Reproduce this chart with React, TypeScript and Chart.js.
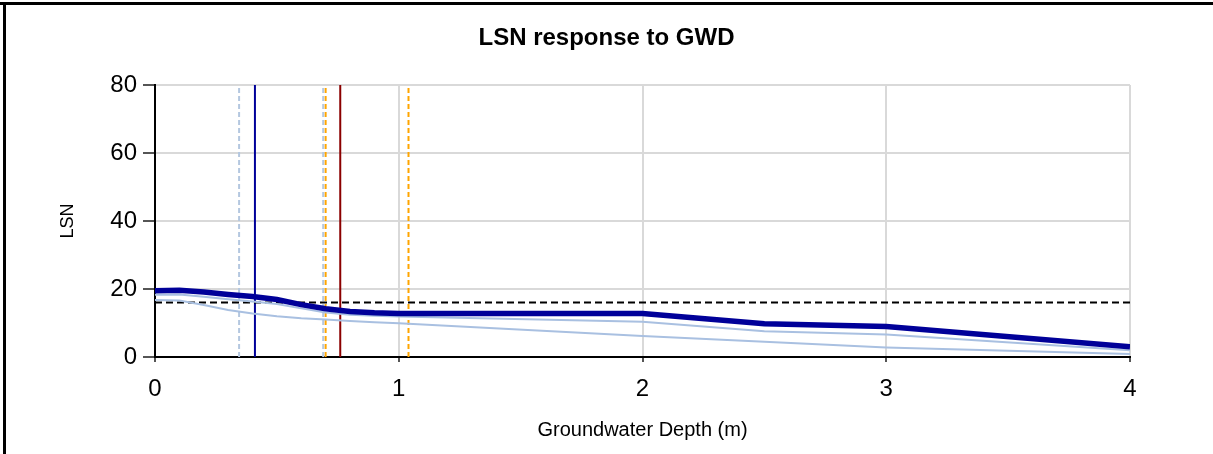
import React, { useEffect, useRef } from "react";
import { Chart, registerables } from "chart.js";

Chart.register(...registerables);

// Groundwater depth (m)
const depths = [0, 0.1, 0.2, 0.3, 0.4, 0.5, 0.6, 0.7, 0.8, 0.9, 1, 2, 2.5, 3, 4];
// LSN series
const lsnMain = [19.5, 19.6, 19.1, 18.4, 17.8, 16.9, 15.4, 14.2, 13.4, 13.0, 12.8, 12.8, 9.8, 9.0, 3.0];
const lsnUpper = [18.3, 18.4, 17.7, 17.0, 16.3, 15.6, 14.3, 13.1, 12.4, 12.1, 11.9, 10.4, 7.6, 6.6, 2.0];
const lsnLower = [16.8, 16.6, 15.3, 13.8, 12.8, 12.0, 11.4, 11.0, 10.6, 10.2, 9.9, 6.2, 4.5, 2.8, 0.9];
// Threshold LSN
const lsnThreshold = 16;
// Vertical markers (groundwater depth)
const markerDepths = [0.345, 0.41, 0.69, 0.7, 0.76, 1.04];
const markerColors = ["#b4c7e0", "#000099", "#b4c7e0", "#ffa500", "#8b0000", "#ffa500"];
const markerDashed = [true, false, true, true, false, true];
// Axis ticks
const xTicks = [0, 1, 2, 3, 4];
const yTicks = [0, 20, 40, 60, 80];

const W = 1213;
const H = 454;

export default function App() {
  const ref = useRef<HTMLCanvasElement | null>(null);

  useEffect(() => {
    document.body.style.margin = "0";
    const canvas = ref.current;
    if (!canvas) return;
    Chart.defaults.font.family = "'Liberation Sans', Arial, sans-serif";
    Chart.defaults.color = "#000";

    const pts = (ys: number[]) => depths.map((x, i) => ({ x, y: ys[i] }));

    const markerSets = markerDepths.map((d, i) => ({
      label: "marker" + i,
      data: [
        { x: d, y: yTicks[0] },
        { x: d, y: yTicks[yTicks.length - 1] },
      ],
      borderColor: markerColors[i],
      borderWidth: 2,
      borderDash: markerDashed[i] ? [5, 3] : [],
      pointRadius: 0,
      fill: false,
      order: 10 + i,
    }));

    const chart = new Chart(canvas, {
      type: "line",
      data: {
        datasets: [
          {
            label: "LSN",
            data: pts(lsnMain),
            borderColor: "#000099",
            borderWidth: 5.5,
            pointRadius: 0,
            tension: 0,
            order: 1,
          },
          {
            label: "LSN upper",
            data: pts(lsnUpper),
            borderColor: "#a9c0e1",
            borderWidth: 2,
            pointRadius: 0,
            order: 2,
          },
          {
            label: "LSN lower",
            data: pts(lsnLower),
            borderColor: "#a9c0e1",
            borderWidth: 2,
            pointRadius: 0,
            order: 3,
          },
          {
            label: "Threshold",
            data: [
              { x: xTicks[0], y: lsnThreshold },
              { x: xTicks[xTicks.length - 1], y: lsnThreshold },
            ],
            borderColor: "#000",
            borderWidth: 2,
            borderDash: [7, 4],
            pointRadius: 0,
            order: 4,
          },
          ...markerSets,
        ],
      },
      options: {
        responsive: false,
        animation: false,
        devicePixelRatio: 1,
        layout: { padding: { left: 0, right: 0, top: 0, bottom: 0 } },
        plugins: {
          legend: { display: false },
          tooltip: { enabled: false },
          title: {
            display: true,
            text: "LSN response to GWD",
            color: "#000",
            font: { size: 24, weight: "bold" },
            padding: { top: 23.6, bottom: 32.6 },
          },
        },
        scales: {
          x: {
            type: "linear",
            min: xTicks[0],
            max: xTicks[xTicks.length - 1],
            afterBuildTicks: (s: any) => {
              s.ticks = xTicks.map((v) => ({ value: v }));
            },
            afterFit: (s: any) => {
              s.height = H - 357;
            },
            ticks: { font: { size: 24 }, color: "#000", padding: 13 },
            grid: { color: "#d9d9d9", lineWidth: 2, tickLength: 5, tickColor: "#555" },
            border: { color: "#000", width: 2 },
            title: {
              display: true,
              text: "Groundwater Depth (m)",
              color: "#000",
              font: { size: 20 },
              padding: { top: 0, bottom: 12 },
            },
          },
          y: {
            min: yTicks[0],
            max: yTicks[yTicks.length - 1],
            afterBuildTicks: (s: any) => {
              s.ticks = yTicks.map((v) => ({ value: v }));
            },
            afterFit: (s: any) => {
              s.width = 155;
            },
            ticks: { font: { size: 24 }, color: "#000", padding: 6 },
            grid: { color: "#d9d9d9", lineWidth: 2, tickLength: 12, tickColor: "#555" },
            border: { color: "#000", width: 2 },
            title: {
              display: true,
              text: "LSN",
              color: "#000",
              font: { size: 18 },
              padding: { top: 57, bottom: 0 },
            },
          },
          yRight: {
            position: "right",
            display: true,
            afterFit: (s: any) => {
              s.width = W - 1130;
            },
            ticks: { display: false },
            grid: { display: false },
            border: { display: false },
          },
        },
      },
    } as any);

    return () => chart.destroy();
  }, []);

  return (
    <div style={{ position: "relative", width: W, height: H, background: "#fff", overflow: "hidden" }}>
      <canvas ref={ref} width={W} height={H} style={{ display: "block" }} />
      <div style={{ position: "absolute", left: 0, top: 2, width: W, height: 3, background: "#000" }} />
      <div style={{ position: "absolute", left: 3, top: 2, width: 3, height: H - 2, background: "#000" }} />
    </div>
  );
}
